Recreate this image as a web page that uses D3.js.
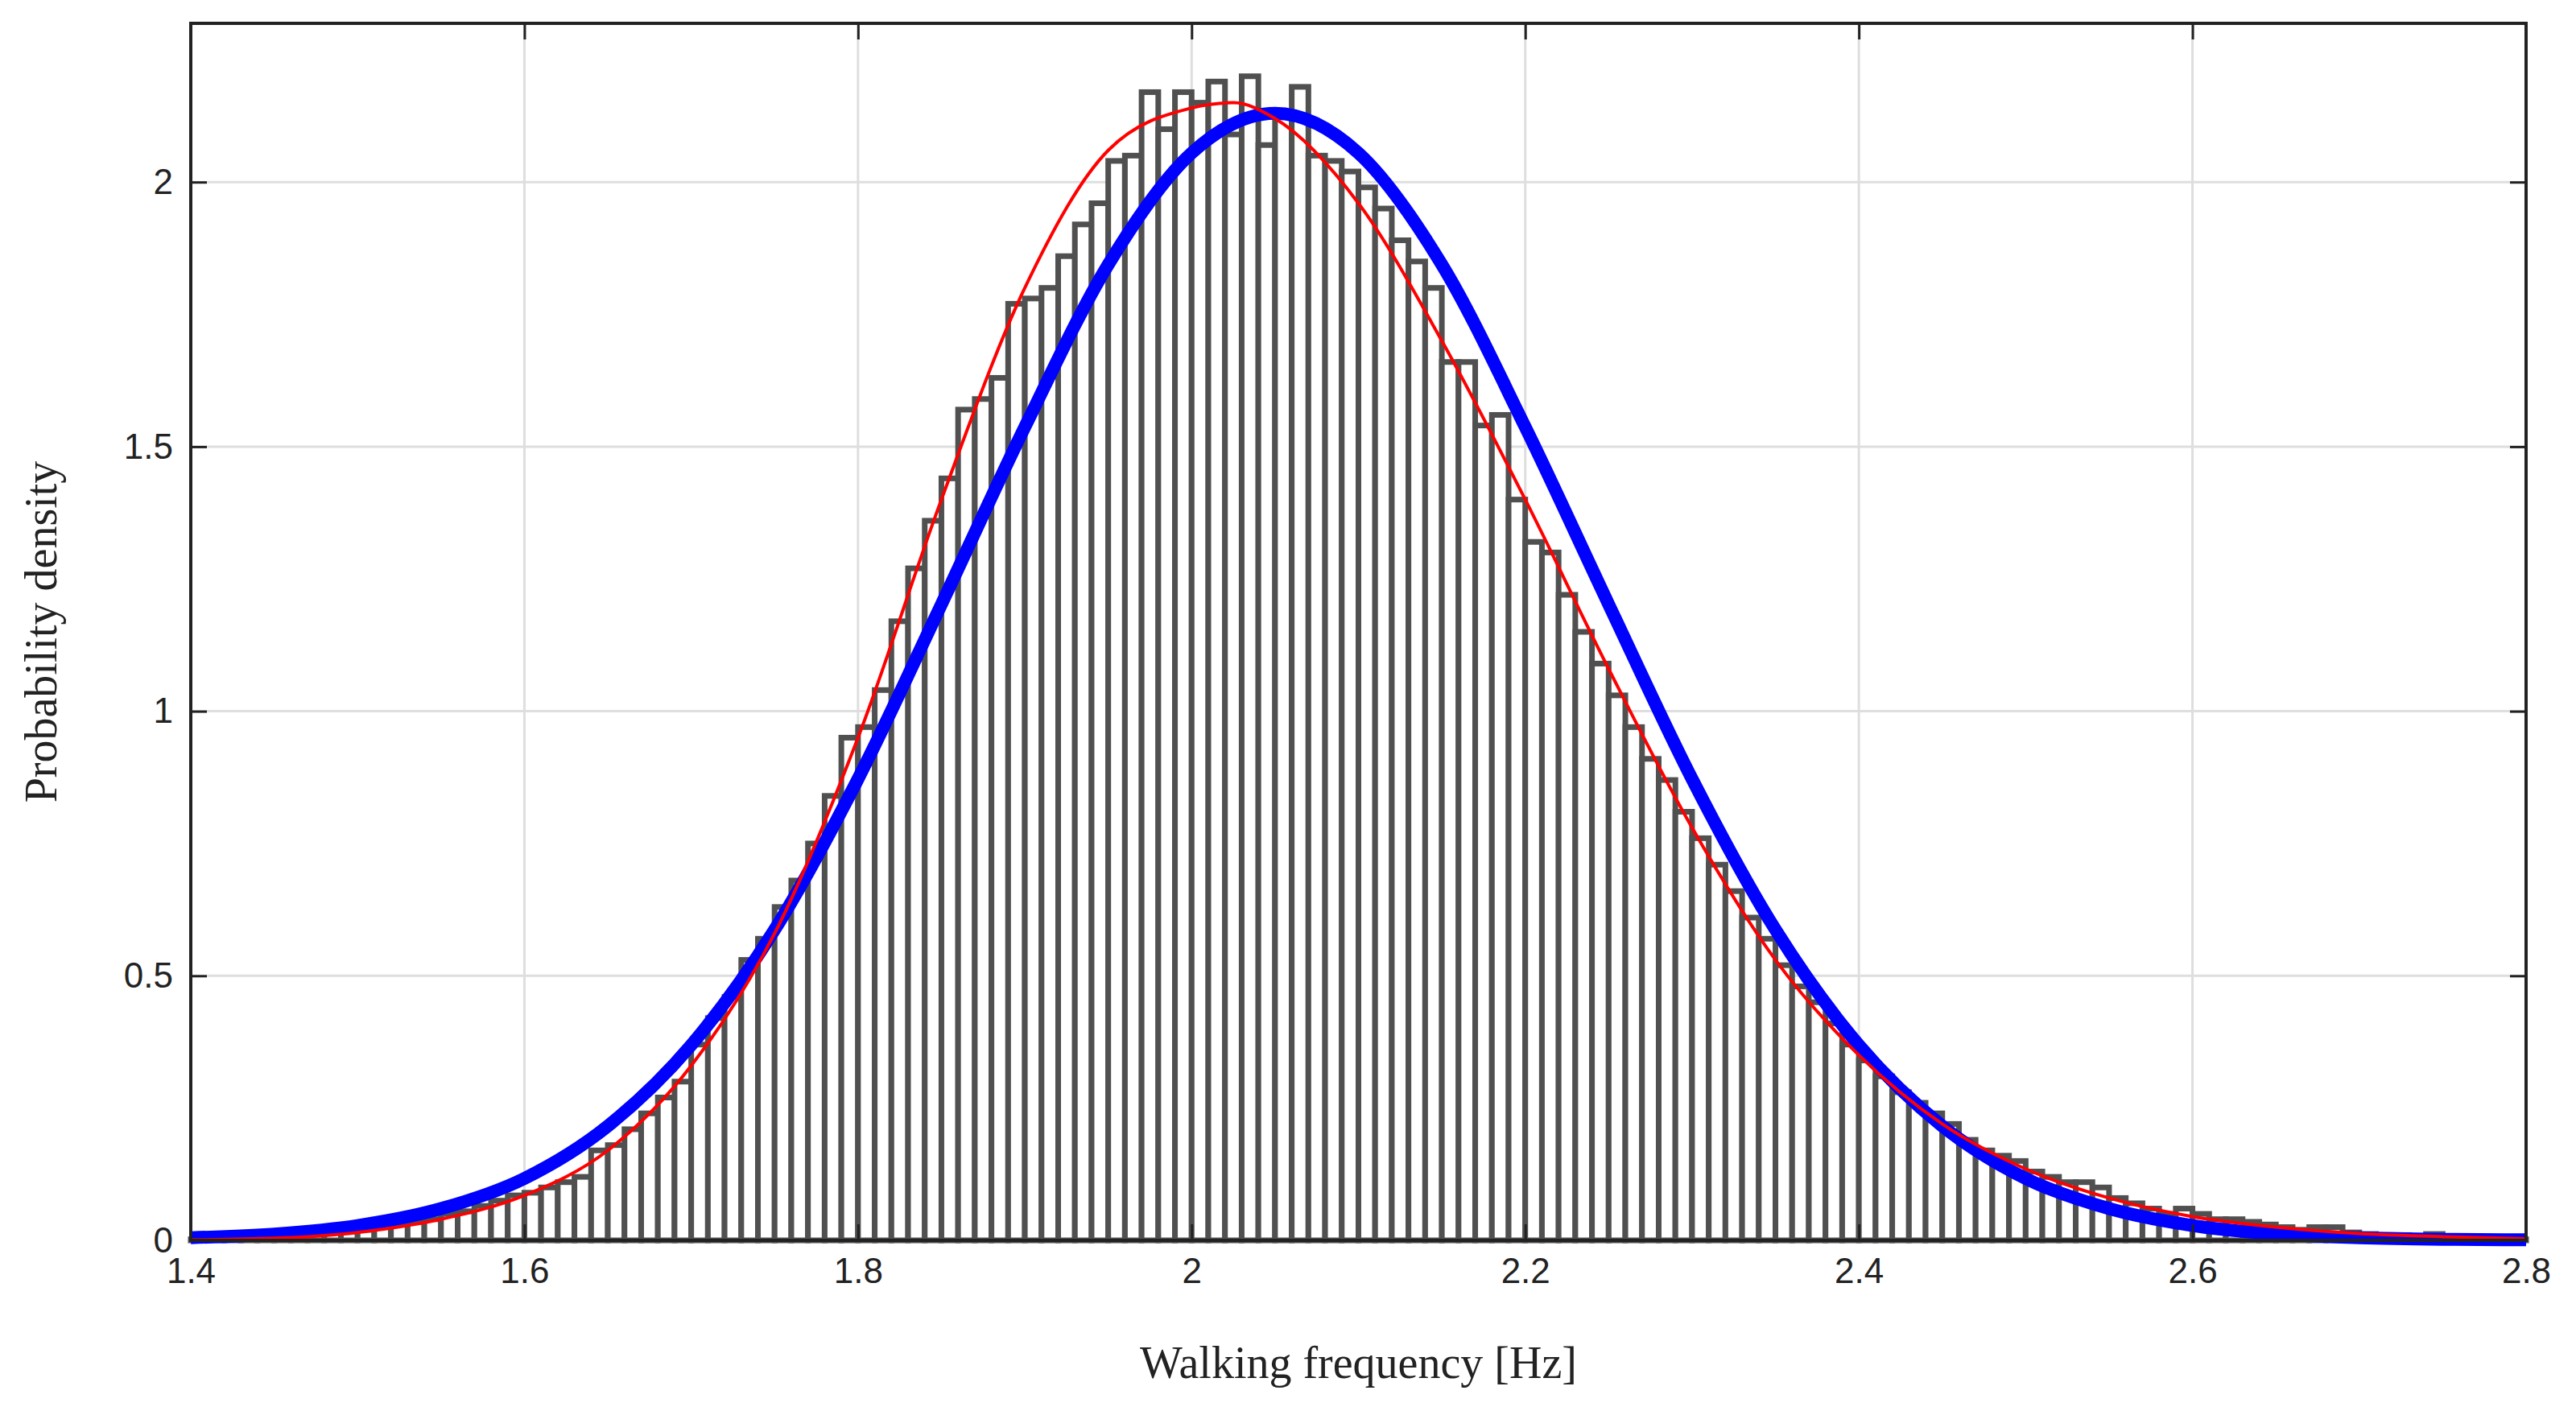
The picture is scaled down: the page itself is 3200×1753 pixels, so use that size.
<!DOCTYPE html>
<html><head><meta charset="utf-8">
<script src="https://cdn.jsdelivr.net/npm/d3@7"></script>
<style>body{margin:0;background:#fff}svg{font-family:"Liberation Serif",serif}</style>
</head><body><svg id="chart" width="3200" height="1753"></svg>
<script>
// histogram: bin left edges start at 1.40, width 0.01
var binStart = 1.40, binWidth = 0.01;
var binValues = [
 0.002,0.003,0.004,0.005,0.006,0.008,0.010,0.012,0.015,0.018,
 0.02,0.025,0.03,0.035,0.04,0.05,0.055,0.065,0.075,0.085,
 0.09,0.10,0.11,0.12,0.17,0.18,0.21,0.24,0.27,0.30,
 0.37,0.42,0.46,0.53,0.57,0.63,0.68,0.75,0.84,0.95,
 0.97,1.04,1.17,1.27,1.36,1.44,1.57,1.59,1.63,1.77,
 1.78,1.80,1.86,1.92,1.96,2.04,2.05,2.17,2.10,2.17,
 2.15,2.19,2.09,2.20,2.07,2.13,2.18,2.05,2.04,2.02,
 1.99,1.95,1.89,1.85,1.80,1.66,1.66,1.54,1.56,1.40,
 1.32,1.30,1.22,1.15,1.09,1.03,0.97,0.91,0.87,0.81,
 0.76,0.71,0.66,0.61,0.57,0.52,0.48,0.45,0.41,0.37,
 0.34,0.31,0.28,0.26,0.24,0.22,0.19,0.17,0.16,0.15,
 0.13,0.12,0.11,0.11,0.10,0.08,0.07,0.06,0.05,0.06,
 0.05,0.04,0.04,0.035,0.03,0.025,0.02,0.025,0.025,0.015,
 0.012,0.01,0.01,0.008,0.012,0.006,0.004,0.003,0.002,0.002
];
// red fitted curve
var redX = [1.4,1.45,1.5,1.55,1.6,1.65,1.7,1.75,1.8,1.85,1.9,1.95,2.0,2.025,2.05,2.1,2.15,2.2,2.25,2.3,2.35,2.4,2.45,2.5,2.55,2.6,2.65,2.7,2.75,2.8];
var redY = [0.001,0.004,0.015,0.04,0.085,0.17,0.33,0.58,0.95,1.40,1.80,2.06,2.14,2.15,2.12,1.96,1.70,1.40,1.08,0.78,0.53,0.35,0.22,0.135,0.08,0.045,0.025,0.013,0.007,0.003];
// blue curve
var blueX = [1.4,1.45,1.5,1.55,1.6,1.65,1.7,1.75,1.8,1.85,1.9,1.95,2.0,2.05,2.1,2.15,2.2,2.25,2.3,2.35,2.4,2.45,2.5,2.55,2.6,2.65,2.7,2.75,2.8];
var blueY = [0.005,0.012,0.028,0.060,0.117,0.216,0.369,0.587,0.872,1.202,1.537,1.844,2.055,2.13,2.055,1.844,1.537,1.202,0.872,0.587,0.369,0.216,0.117,0.060,0.028,0.012,0.005,0.002,0.001];
var xTicks = [1.4,1.6,1.8,2,2.2,2.4,2.6,2.8];
var yTicks = [0,0.5,1,1.5,2];

var svg = d3.select("#chart");
var L = 237, R = 3138, T = 29, B = 1541;
var x = d3.scaleLinear().domain([1.4,2.8]).range([L,R]);
var y = d3.scaleLinear().domain([0,2.3]).range([B,T]);

// grid
svg.append("g").selectAll("line").data(xTicks).enter().append("line")
  .attr("x1",function(d){return x(d);}).attr("x2",function(d){return x(d);})
  .attr("y1",T).attr("y2",B).attr("stroke","#dedede").attr("stroke-width",3);
svg.append("g").selectAll("line").data(yTicks).enter().append("line")
  .attr("y1",function(d){return y(d);}).attr("y2",function(d){return y(d);})
  .attr("x1",L).attr("x2",R).attr("stroke","#dedede").attr("stroke-width",3);

// bars
svg.append("g").selectAll("rect").data(binValues).enter().append("rect")
  .attr("x",function(d,i){return x(binStart+i*binWidth);})
  .attr("width",function(d,i){return x(binStart+(i+1)*binWidth)-x(binStart+i*binWidth);})
  .attr("y",function(d){return y(d);})
  .attr("height",function(d){return B-y(d);})
  .attr("fill","#fff").attr("stroke","#505050").attr("stroke-width",7);

var line = d3.line().curve(d3.curveMonotoneX);
svg.append("path").attr("d",line(blueX.map(function(v,i){return [x(v),y(blueY[i])];})))
  .attr("fill","none").attr("stroke","#0000ff").attr("stroke-width",16);
svg.append("path").attr("d",line(redX.map(function(v,i){return [x(v),y(redY[i])];})))
  .attr("fill","none").attr("stroke","#ff0000").attr("stroke-width",4);

// axes box with inward ticks on all sides
var fmt = function(d){return String(d);};
svg.append("g").attr("transform","translate(0,"+B+")")
  .call(d3.axisBottom(x).tickValues(xTicks).tickFormat(fmt).tickSizeInner(-20).tickSizeOuter(0).tickPadding(22));
svg.append("g").attr("transform","translate(0,"+T+")")
  .call(d3.axisTop(x).tickValues(xTicks).tickFormat("").tickSizeInner(-20).tickSizeOuter(0));
svg.append("g").attr("transform","translate("+L+",0)")
  .call(d3.axisLeft(y).tickValues(yTicks).tickFormat(fmt).tickSizeInner(-20).tickSizeOuter(0).tickPadding(22));
svg.append("g").attr("transform","translate("+R+",0)")
  .call(d3.axisRight(y).tickValues(yTicks).tickFormat("").tickSizeInner(-20).tickSizeOuter(0));
svg.selectAll(".domain").remove();
svg.selectAll(".tick line").attr("stroke","#222").attr("stroke-width",3);
svg.selectAll(".tick text").attr("font-size",44).attr("fill","#222");
svg.append("rect").attr("x",L).attr("y",T).attr("width",R-L).attr("height",B-T)
  .attr("fill","none").attr("stroke","#222").attr("stroke-width",4);

svg.append("text").attr("x",(L+R)/2).attr("y",1712).attr("text-anchor","middle")
  .attr("font-size",56).attr("fill","#222").text("Walking frequency [Hz]");
svg.append("text").attr("transform","translate(70,"+((T+B)/2)+") rotate(-90)")
  .attr("text-anchor","middle").attr("font-size",56).attr("fill","#222").text("Probability density");
</script></body></html>
